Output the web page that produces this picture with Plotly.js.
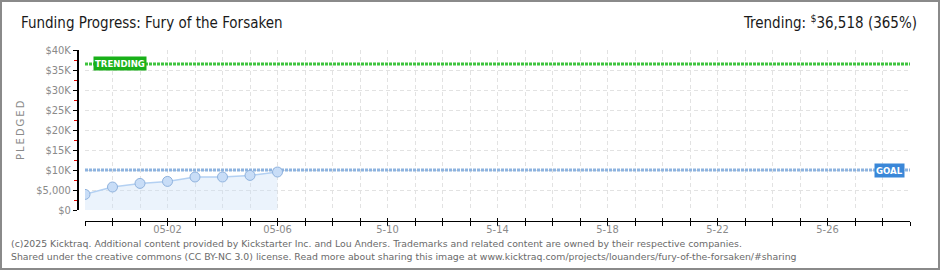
<!DOCTYPE html>
<html>
<head>
<meta charset="utf-8">
<script src="https://cdn.plot.ly/plotly-3.0.1.min.js"></script>
<style>
  html, body { margin: 0; padding: 0; background: #fff; }
  #wrap { position: relative; width: 940px; height: 270px; }
  #chart { width: 940px; height: 270px; }
  #frame { position: absolute; left: 0; top: 0; width: 940px; height: 270px; box-sizing: border-box; border: 2px solid #8a8a8a; pointer-events: none; }
</style>
</head>
<body>
<div id="wrap"><div id="chart"></div><div id="frame"></div></div>
<script>
// ---- data ----
const dates = ['2025-04-29','2025-04-30','2025-05-01','2025-05-02','2025-05-03','2025-05-04','2025-05-05','2025-05-06'];
const pledged = [3900, 5750, 6650, 7150, 8250, 8250, 8650, 9500];
const goal = 10000;
const trending = 36518;
const rangeStart = '2025-04-29';
const rangeEnd = '2025-05-29';
const labelDates = ['2025-05-02','2025-05-06','2025-05-10','2025-05-14','2025-05-18','2025-05-22','2025-05-26'];
const labelTexts = ['05-02','05-06','5-10','5-14','5-18','5-22','5-26'];
const yTickVals = [0,5000,10000,15000,20000,25000,30000,35000,40000];
const yTickText = ['$0','$5,000','$10K','$15K','$20K','$25K','$30K','$35K','$40K'];
const yMinorVals = [2500,7500,12500,17500,22500,27500,32500,37500];
const titleText = 'Funding Progress: Fury of the Forsaken';
const trendText = 'Trending: <sup>$</sup>36,518 (365%)';
const yTitle = 'P\u2009L\u2009E\u2009D\u2009G\u2009E\u2009D';
const footer1 = '(c)2025 Kicktraq. Additional content provided by Kickstarter Inc. and Lou Anders. Trademarks and related content are owned by their respective companies.';
const footer2 = 'Shared under the creative commons (CC BY-NC 3.0) license. Read more about sharing this image at www.kicktraq.com/projects/louanders/fury-of-the-forsaken/#sharing';

// ---- build daily ticks ----
const dayVals = [], dayText = [];
{
  let d = new Date(rangeStart + 'T00:00:00Z');
  const end = new Date(rangeEnd + 'T00:00:00Z');
  while (d <= end) {
    const s = d.toISOString().slice(0,10);
    dayVals.push(s);
    const i = labelDates.indexOf(s);
    dayText.push(i >= 0 ? labelTexts[i] : '');
    d = new Date(d.getTime() + 86400000);
  }
}

// ---- geometry helpers (paper coords) ----
const W = 940, H = 270, ML = 77, MR = 30, MT = 50, MB = 49;
const PW = W - ML - MR, PH = H - MT - MB;
const px = x => (x - ML) / PW;
const py = y => (H - MB - y) / PH;

const tickFont = {family: '"DejaVu Sans Condensed", "DejaVu Sans", sans-serif', size: 11, color: '#8a8a8a'};
const headFont = {family: '"DejaVu Sans Condensed", "DejaVu Sans", sans-serif', size: 15, color: '#1a1a1a'};

const traces = [
  {x: [rangeStart, rangeEnd], y: [trending, trending], mode: 'lines', line: {color: '#3ec43e', width: 3, dash: '3px,1px'}, hoverinfo: 'skip', xaxis: 'x', yaxis: 'y'},
  {x: [rangeStart, rangeEnd], y: [goal, goal], mode: 'lines', line: {color: '#8db3df', width: 3, dash: '3px,1px'}, hoverinfo: 'skip', xaxis: 'x', yaxis: 'y'},
  {x: dates, y: pledged, mode: 'lines+markers', fill: 'tozeroy', fillcolor: 'rgba(205,224,247,0.4)',
   line: {color: '#b3d0f2', width: 1.5},
   marker: {size: 10, color: '#c8ddf7', line: {color: '#8fb2dd', width: 1}},
   xaxis: 'x', yaxis: 'y'},
  {x: [rangeStart], y: [0], mode: 'markers', marker: {opacity: 0}, hoverinfo: 'skip', xaxis: 'x2', yaxis: 'y'}
];

const layout = {
  width: W, height: H,
  margin: {l: ML, r: MR, t: MT, b: MB},
  paper_bgcolor: '#ffffff', plot_bgcolor: '#ffffff',
  showlegend: false,
  xaxis: {
    type: 'date', range: [rangeStart, rangeEnd], domain: [8 / PW, 1],
    anchor: 'free', position: 0,
    tickmode: 'array', tickvals: dayVals, ticktext: dayText,
    ticks: 'outside', ticklen: 4, tickcolor: '#000', tickwidth: 1,
    ticklabelstandoff: -6,
    showline: true, linecolor: '#000', linewidth: 1,
    showgrid: true, gridcolor: '#e2e2e2', griddash: '4px,3px', gridwidth: 1,
    zeroline: false, tickfont: tickFont
  },
  xaxis2: {
    type: 'date', range: [rangeStart, rangeEnd], domain: [8 / PW, 1],
    anchor: 'free', position: 0, overlaying: 'x',
    tickmode: 'array', tickvals: dayVals, showticklabels: false,
    ticks: 'inside', ticklen: 3, tickcolor: '#000', showgrid: false, showline: false, zeroline: false
  },
  yaxis: {
    range: [0, 40000], domain: [11 / PH, 1],
    anchor: 'free', position: 0,
    tickmode: 'array', tickvals: yTickVals, ticktext: yTickText,
    ticks: 'outside', ticklen: 4, tickcolor: '#000', tickwidth: 1,
    minor: {tickmode: 'array', tickvals: yMinorVals, ticks: 'outside', ticklen: 3, tickcolor: '#e00000', showgrid: false},
    showline: true, linecolor: '#000', linewidth: 1.5,
    showgrid: true, gridcolor: '#e2e2e2', griddash: '4px,3px', gridwidth: 1,
    zeroline: false, tickfont: tickFont
  },
  annotations: [
    {text: titleText, xref: 'paper', yref: 'paper', x: px(19), y: py(23), xanchor: 'left', yanchor: 'middle', showarrow: false, font: headFont},
    {text: trendText, xref: 'paper', yref: 'paper', x: px(919), y: py(22), xanchor: 'right', yanchor: 'middle', showarrow: false, font: headFont},
    {text: yTitle, xref: 'paper', yref: 'paper', x: px(20), y: py(130), xanchor: 'center', yanchor: 'middle', textangle: -90, showarrow: false,
     font: {family: '"DejaVu Sans", sans-serif', size: 10, color: '#8a8a8a'}},
    {text: '<b>TRENDING</b>', xref: 'paper', yref: 'y', x: px(93), y: trending, xanchor: 'left', yanchor: 'middle', showarrow: false,
     bgcolor: '#19b019', borderpad: 1, font: {family: '"DejaVu Sans Condensed", sans-serif', size: 9.5, color: '#ffffff'}},
    {text: '<b>GOAL</b>', xref: 'paper', yref: 'y', x: px(905), y: goal, xanchor: 'right', yanchor: 'middle', showarrow: false,
     bgcolor: '#3a87d8', borderpad: 1, font: {family: '"DejaVu Sans Condensed", sans-serif', size: 9.5, color: '#ffffff'}},
    {text: footer1, xref: 'paper', yref: 'paper', x: px(9), y: py(243), xanchor: 'left', yanchor: 'middle', showarrow: false,
     font: {family: '"DejaVu Sans", sans-serif', size: 9.33, color: '#6a6a6a'}},
    {text: footer2, xref: 'paper', yref: 'paper', x: px(9), y: py(256), xanchor: 'left', yanchor: 'middle', showarrow: false,
     font: {family: '"DejaVu Sans", sans-serif', size: 9.33, color: '#6a6a6a'}}
  ]
};

Plotly.newPlot('chart', traces, layout, {displayModeBar: false, staticPlot: true});
</script>
</body>
</html>
